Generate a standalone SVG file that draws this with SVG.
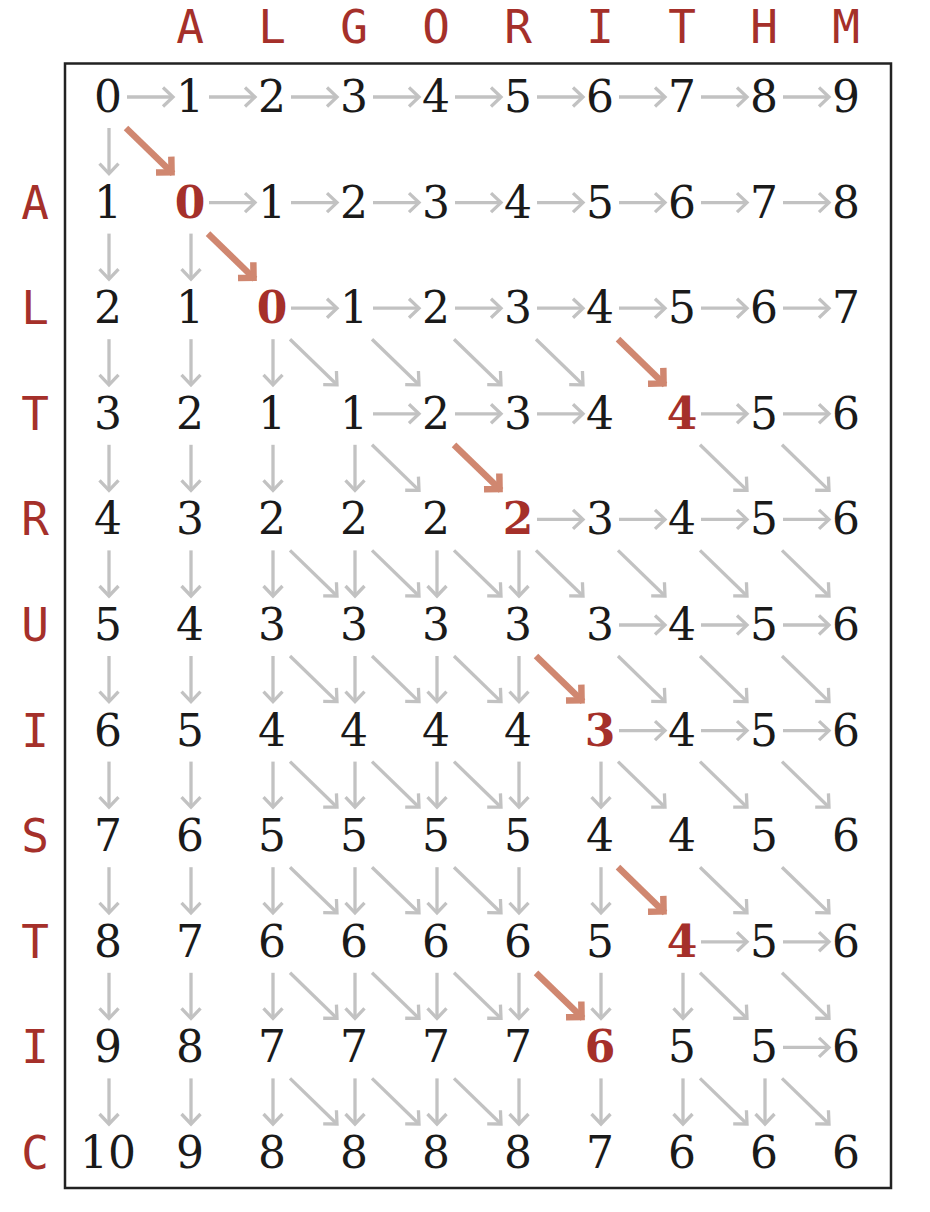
<svg xmlns="http://www.w3.org/2000/svg" width="930" height="1212" viewBox="0 0 930 1212">
<defs>
<style>
.d{font-family:"DejaVu Serif","Liberation Serif",serif;font-size:44px;fill:#1a1a1a;text-anchor:middle}
.dr{font-family:"DejaVu Serif","Liberation Serif",serif;font-size:44px;font-weight:bold;fill:#a5302a;text-anchor:middle}
.l{font-family:"DejaVu Sans Mono","Liberation Mono",monospace;font-size:46px;fill:#a5302a;text-anchor:middle}
.g{stroke:#c2c2c2;stroke-width:3.3;fill:none;marker-end:url(#ag)}
.r{stroke:#d08770;stroke-width:6.5;fill:none;marker-end:url(#ar)}
</style>
<marker id="ag" markerUnits="userSpaceOnUse" orient="auto" markerWidth="30" markerHeight="30" viewBox="-15 -15 30 30" refX="0" refY="0" overflow="visible"><path d="M-10,-9.5 L0,0 L-10,9.5" fill="none" stroke="#c2c2c2" stroke-width="3.3"/></marker>
<marker id="ar" markerUnits="userSpaceOnUse" orient="auto" markerWidth="40" markerHeight="40" viewBox="-20 -20 40 40" refX="0" refY="0" overflow="visible"><path d="M-13,-11 L-2,0 L-13,11" fill="none" stroke="#d08770" stroke-width="6.5"/></marker>
</defs>
<rect x="0" y="0" width="930" height="1212" fill="#fff"/>
<rect id="frame" x="65" y="63.5" width="826" height="1124.5" fill="none" stroke="#222" stroke-width="2.5"/>
<g id="col-labels">
<text class="l" x="190" y="43">A</text><text class="l" x="272" y="43">L</text><text class="l" x="354" y="43">G</text><text class="l" x="436" y="43">O</text><text class="l" x="518" y="43">R</text><text class="l" x="600" y="43">I</text><text class="l" x="682" y="43">T</text><text class="l" x="764" y="43">H</text><text class="l" x="846" y="43">M</text>
</g>
<g id="row-labels">
<text class="l" x="35" y="218.6">A</text><text class="l" x="35" y="324.2">L</text><text class="l" x="35" y="429.8">T</text><text class="l" x="35" y="535.4">R</text><text class="l" x="35" y="641">U</text><text class="l" x="35" y="746.6">I</text><text class="l" x="35" y="852.2">S</text><text class="l" x="35" y="957.8">T</text><text class="l" x="35" y="1063.4">I</text><text class="l" x="35" y="1169">C</text>
</g>
<g id="connectors">
<line class="g" x1="127" y1="97" x2="173" y2="97"/><line class="g" x1="209" y1="97" x2="255" y2="97"/><line class="g" x1="291" y1="97" x2="337" y2="97"/><line class="g" x1="373" y1="97" x2="419" y2="97"/><line class="g" x1="455" y1="97" x2="501" y2="97"/><line class="g" x1="537" y1="97" x2="583" y2="97"/><line class="g" x1="619" y1="97" x2="665" y2="97"/><line class="g" x1="701" y1="97" x2="747" y2="97"/><line class="g" x1="783" y1="97" x2="829" y2="97"/>
<line class="g" x1="209" y1="202.6" x2="255" y2="202.6"/><line class="g" x1="291" y1="202.6" x2="337" y2="202.6"/><line class="g" x1="373" y1="202.6" x2="419" y2="202.6"/><line class="g" x1="455" y1="202.6" x2="501" y2="202.6"/><line class="g" x1="537" y1="202.6" x2="583" y2="202.6"/><line class="g" x1="619" y1="202.6" x2="665" y2="202.6"/><line class="g" x1="701" y1="202.6" x2="747" y2="202.6"/><line class="g" x1="783" y1="202.6" x2="829" y2="202.6"/>
<line class="g" x1="291" y1="308.2" x2="337" y2="308.2"/><line class="g" x1="373" y1="308.2" x2="419" y2="308.2"/><line class="g" x1="455" y1="308.2" x2="501" y2="308.2"/><line class="g" x1="537" y1="308.2" x2="583" y2="308.2"/><line class="g" x1="619" y1="308.2" x2="665" y2="308.2"/><line class="g" x1="701" y1="308.2" x2="747" y2="308.2"/><line class="g" x1="783" y1="308.2" x2="829" y2="308.2"/>
<line class="g" x1="373" y1="413.8" x2="419" y2="413.8"/><line class="g" x1="455" y1="413.8" x2="501" y2="413.8"/><line class="g" x1="537" y1="413.8" x2="583" y2="413.8"/><line class="g" x1="701" y1="413.8" x2="747" y2="413.8"/><line class="g" x1="783" y1="413.8" x2="829" y2="413.8"/>
<line class="g" x1="537" y1="519.4" x2="583" y2="519.4"/><line class="g" x1="619" y1="519.4" x2="665" y2="519.4"/><line class="g" x1="701" y1="519.4" x2="747" y2="519.4"/><line class="g" x1="783" y1="519.4" x2="829" y2="519.4"/>
<line class="g" x1="619" y1="625" x2="665" y2="625"/><line class="g" x1="701" y1="625" x2="747" y2="625"/><line class="g" x1="783" y1="625" x2="829" y2="625"/>
<line class="g" x1="619" y1="730.6" x2="665" y2="730.6"/><line class="g" x1="701" y1="730.6" x2="747" y2="730.6"/><line class="g" x1="783" y1="730.6" x2="829" y2="730.6"/>
<line class="g" x1="701" y1="941.8" x2="747" y2="941.8"/><line class="g" x1="783" y1="941.8" x2="829" y2="941.8"/>
<line class="g" x1="783" y1="1047.4" x2="829" y2="1047.4"/>

<line class="g" x1="109" y1="128" x2="109" y2="173.6"/>
<line class="g" x1="109" y1="233.6" x2="109" y2="279.2"/><line class="g" x1="191" y1="233.6" x2="191" y2="279.2"/>
<line class="g" x1="109" y1="339.2" x2="109" y2="384.8"/><line class="g" x1="191" y1="339.2" x2="191" y2="384.8"/><line class="g" x1="273" y1="339.2" x2="273" y2="384.8"/>
<line class="g" x1="109" y1="444.8" x2="109" y2="490.4"/><line class="g" x1="191" y1="444.8" x2="191" y2="490.4"/><line class="g" x1="273" y1="444.8" x2="273" y2="490.4"/><line class="g" x1="355" y1="444.8" x2="355" y2="490.4"/>
<line class="g" x1="109" y1="550.4" x2="109" y2="596"/><line class="g" x1="191" y1="550.4" x2="191" y2="596"/><line class="g" x1="273" y1="550.4" x2="273" y2="596"/><line class="g" x1="355" y1="550.4" x2="355" y2="596"/><line class="g" x1="437" y1="550.4" x2="437" y2="596"/><line class="g" x1="519" y1="550.4" x2="519" y2="596"/>
<line class="g" x1="109" y1="656" x2="109" y2="701.6"/><line class="g" x1="191" y1="656" x2="191" y2="701.6"/><line class="g" x1="273" y1="656" x2="273" y2="701.6"/><line class="g" x1="355" y1="656" x2="355" y2="701.6"/><line class="g" x1="437" y1="656" x2="437" y2="701.6"/><line class="g" x1="519" y1="656" x2="519" y2="701.6"/>
<line class="g" x1="109" y1="761.6" x2="109" y2="807.2"/><line class="g" x1="191" y1="761.6" x2="191" y2="807.2"/><line class="g" x1="273" y1="761.6" x2="273" y2="807.2"/><line class="g" x1="355" y1="761.6" x2="355" y2="807.2"/><line class="g" x1="437" y1="761.6" x2="437" y2="807.2"/><line class="g" x1="519" y1="761.6" x2="519" y2="807.2"/><line class="g" x1="601" y1="761.6" x2="601" y2="807.2"/>
<line class="g" x1="109" y1="867.2" x2="109" y2="912.8"/><line class="g" x1="191" y1="867.2" x2="191" y2="912.8"/><line class="g" x1="273" y1="867.2" x2="273" y2="912.8"/><line class="g" x1="355" y1="867.2" x2="355" y2="912.8"/><line class="g" x1="437" y1="867.2" x2="437" y2="912.8"/><line class="g" x1="519" y1="867.2" x2="519" y2="912.8"/><line class="g" x1="601" y1="867.2" x2="601" y2="912.8"/>
<line class="g" x1="109" y1="972.8" x2="109" y2="1018.4"/><line class="g" x1="191" y1="972.8" x2="191" y2="1018.4"/><line class="g" x1="273" y1="972.8" x2="273" y2="1018.4"/><line class="g" x1="355" y1="972.8" x2="355" y2="1018.4"/><line class="g" x1="437" y1="972.8" x2="437" y2="1018.4"/><line class="g" x1="519" y1="972.8" x2="519" y2="1018.4"/><line class="g" x1="601" y1="972.8" x2="601" y2="1018.4"/><line class="g" x1="683" y1="972.8" x2="683" y2="1018.4"/>
<line class="g" x1="109" y1="1078.4" x2="109" y2="1124"/><line class="g" x1="191" y1="1078.4" x2="191" y2="1124"/><line class="g" x1="273" y1="1078.4" x2="273" y2="1124"/><line class="g" x1="355" y1="1078.4" x2="355" y2="1124"/><line class="g" x1="437" y1="1078.4" x2="437" y2="1124"/><line class="g" x1="519" y1="1078.4" x2="519" y2="1124"/><line class="g" x1="601" y1="1078.4" x2="601" y2="1124"/><line class="g" x1="683" y1="1078.4" x2="683" y2="1124"/><line class="g" x1="765" y1="1078.4" x2="765" y2="1124"/>

<line class="g" x1="290" y1="339.2" x2="337" y2="384.8"/><line class="g" x1="372" y1="339.2" x2="419" y2="384.8"/><line class="g" x1="454" y1="339.2" x2="501" y2="384.8"/><line class="g" x1="536" y1="339.2" x2="583" y2="384.8"/>
<line class="g" x1="372" y1="444.8" x2="419" y2="490.4"/><line class="g" x1="700" y1="444.8" x2="747" y2="490.4"/><line class="g" x1="782" y1="444.8" x2="829" y2="490.4"/>
<line class="g" x1="290" y1="550.4" x2="337" y2="596"/><line class="g" x1="372" y1="550.4" x2="419" y2="596"/><line class="g" x1="454" y1="550.4" x2="501" y2="596"/><line class="g" x1="536" y1="550.4" x2="583" y2="596"/><line class="g" x1="618" y1="550.4" x2="665" y2="596"/><line class="g" x1="700" y1="550.4" x2="747" y2="596"/><line class="g" x1="782" y1="550.4" x2="829" y2="596"/>
<line class="g" x1="290" y1="656" x2="337" y2="701.6"/><line class="g" x1="372" y1="656" x2="419" y2="701.6"/><line class="g" x1="454" y1="656" x2="501" y2="701.6"/><line class="g" x1="618" y1="656" x2="665" y2="701.6"/><line class="g" x1="700" y1="656" x2="747" y2="701.6"/><line class="g" x1="782" y1="656" x2="829" y2="701.6"/>
<line class="g" x1="290" y1="761.6" x2="337" y2="807.2"/><line class="g" x1="372" y1="761.6" x2="419" y2="807.2"/><line class="g" x1="454" y1="761.6" x2="501" y2="807.2"/><line class="g" x1="618" y1="761.6" x2="665" y2="807.2"/><line class="g" x1="700" y1="761.6" x2="747" y2="807.2"/><line class="g" x1="782" y1="761.6" x2="829" y2="807.2"/>
<line class="g" x1="290" y1="867.2" x2="337" y2="912.8"/><line class="g" x1="372" y1="867.2" x2="419" y2="912.8"/><line class="g" x1="454" y1="867.2" x2="501" y2="912.8"/><line class="g" x1="700" y1="867.2" x2="747" y2="912.8"/><line class="g" x1="782" y1="867.2" x2="829" y2="912.8"/>
<line class="g" x1="290" y1="972.8" x2="337" y2="1018.4"/><line class="g" x1="372" y1="972.8" x2="419" y2="1018.4"/><line class="g" x1="454" y1="972.8" x2="501" y2="1018.4"/><line class="g" x1="700" y1="972.8" x2="747" y2="1018.4"/><line class="g" x1="782" y1="972.8" x2="829" y2="1018.4"/>
<line class="g" x1="290" y1="1078.4" x2="337" y2="1124"/><line class="g" x1="372" y1="1078.4" x2="419" y2="1124"/><line class="g" x1="454" y1="1078.4" x2="501" y2="1124"/><line class="g" x1="700" y1="1078.4" x2="747" y2="1124"/><line class="g" x1="782" y1="1078.4" x2="829" y2="1124"/>

<line class="r" x1="126" y1="128" x2="173" y2="173.6"/>
<line class="r" x1="208" y1="233.6" x2="255" y2="279.2"/>
<line class="r" x1="618" y1="339.2" x2="665" y2="384.8"/>
<line class="r" x1="454" y1="444.8" x2="501" y2="490.4"/>
<line class="r" x1="536" y1="656" x2="583" y2="701.6"/>
<line class="r" x1="618" y1="867.2" x2="665" y2="912.8"/>
<line class="r" x1="536" y1="972.8" x2="583" y2="1018.4"/>
</g>
<g id="cells">
<g id="n-0-0"><text class="d" x="108" y="112">0</text></g><g id="n-0-1"><text class="d" x="190" y="112">1</text></g><g id="n-0-2"><text class="d" x="272" y="112">2</text></g><g id="n-0-3"><text class="d" x="354" y="112">3</text></g><g id="n-0-4"><text class="d" x="436" y="112">4</text></g><g id="n-0-5"><text class="d" x="518" y="112">5</text></g><g id="n-0-6"><text class="d" x="600" y="112">6</text></g><g id="n-0-7"><text class="d" x="682" y="112">7</text></g><g id="n-0-8"><text class="d" x="764" y="112">8</text></g><g id="n-0-9"><text class="d" x="846" y="112">9</text></g>
<g id="n-1-0"><text class="d" x="108" y="217.6">1</text></g><g id="n-1-1"><text class="dr" x="190" y="217.6">0</text></g><g id="n-1-2"><text class="d" x="272" y="217.6">1</text></g><g id="n-1-3"><text class="d" x="354" y="217.6">2</text></g><g id="n-1-4"><text class="d" x="436" y="217.6">3</text></g><g id="n-1-5"><text class="d" x="518" y="217.6">4</text></g><g id="n-1-6"><text class="d" x="600" y="217.6">5</text></g><g id="n-1-7"><text class="d" x="682" y="217.6">6</text></g><g id="n-1-8"><text class="d" x="764" y="217.6">7</text></g><g id="n-1-9"><text class="d" x="846" y="217.6">8</text></g>
<g id="n-2-0"><text class="d" x="108" y="323.2">2</text></g><g id="n-2-1"><text class="d" x="190" y="323.2">1</text></g><g id="n-2-2"><text class="dr" x="272" y="323.2">0</text></g><g id="n-2-3"><text class="d" x="354" y="323.2">1</text></g><g id="n-2-4"><text class="d" x="436" y="323.2">2</text></g><g id="n-2-5"><text class="d" x="518" y="323.2">3</text></g><g id="n-2-6"><text class="d" x="600" y="323.2">4</text></g><g id="n-2-7"><text class="d" x="682" y="323.2">5</text></g><g id="n-2-8"><text class="d" x="764" y="323.2">6</text></g><g id="n-2-9"><text class="d" x="846" y="323.2">7</text></g>
<g id="n-3-0"><text class="d" x="108" y="428.8">3</text></g><g id="n-3-1"><text class="d" x="190" y="428.8">2</text></g><g id="n-3-2"><text class="d" x="272" y="428.8">1</text></g><g id="n-3-3"><text class="d" x="354" y="428.8">1</text></g><g id="n-3-4"><text class="d" x="436" y="428.8">2</text></g><g id="n-3-5"><text class="d" x="518" y="428.8">3</text></g><g id="n-3-6"><text class="d" x="600" y="428.8">4</text></g><g id="n-3-7"><text class="dr" x="682" y="428.8">4</text></g><g id="n-3-8"><text class="d" x="764" y="428.8">5</text></g><g id="n-3-9"><text class="d" x="846" y="428.8">6</text></g>
<g id="n-4-0"><text class="d" x="108" y="534.4">4</text></g><g id="n-4-1"><text class="d" x="190" y="534.4">3</text></g><g id="n-4-2"><text class="d" x="272" y="534.4">2</text></g><g id="n-4-3"><text class="d" x="354" y="534.4">2</text></g><g id="n-4-4"><text class="d" x="436" y="534.4">2</text></g><g id="n-4-5"><text class="dr" x="518" y="534.4">2</text></g><g id="n-4-6"><text class="d" x="600" y="534.4">3</text></g><g id="n-4-7"><text class="d" x="682" y="534.4">4</text></g><g id="n-4-8"><text class="d" x="764" y="534.4">5</text></g><g id="n-4-9"><text class="d" x="846" y="534.4">6</text></g>
<g id="n-5-0"><text class="d" x="108" y="640">5</text></g><g id="n-5-1"><text class="d" x="190" y="640">4</text></g><g id="n-5-2"><text class="d" x="272" y="640">3</text></g><g id="n-5-3"><text class="d" x="354" y="640">3</text></g><g id="n-5-4"><text class="d" x="436" y="640">3</text></g><g id="n-5-5"><text class="d" x="518" y="640">3</text></g><g id="n-5-6"><text class="d" x="600" y="640">3</text></g><g id="n-5-7"><text class="d" x="682" y="640">4</text></g><g id="n-5-8"><text class="d" x="764" y="640">5</text></g><g id="n-5-9"><text class="d" x="846" y="640">6</text></g>
<g id="n-6-0"><text class="d" x="108" y="745.6">6</text></g><g id="n-6-1"><text class="d" x="190" y="745.6">5</text></g><g id="n-6-2"><text class="d" x="272" y="745.6">4</text></g><g id="n-6-3"><text class="d" x="354" y="745.6">4</text></g><g id="n-6-4"><text class="d" x="436" y="745.6">4</text></g><g id="n-6-5"><text class="d" x="518" y="745.6">4</text></g><g id="n-6-6"><text class="dr" x="600" y="745.6">3</text></g><g id="n-6-7"><text class="d" x="682" y="745.6">4</text></g><g id="n-6-8"><text class="d" x="764" y="745.6">5</text></g><g id="n-6-9"><text class="d" x="846" y="745.6">6</text></g>
<g id="n-7-0"><text class="d" x="108" y="851.2">7</text></g><g id="n-7-1"><text class="d" x="190" y="851.2">6</text></g><g id="n-7-2"><text class="d" x="272" y="851.2">5</text></g><g id="n-7-3"><text class="d" x="354" y="851.2">5</text></g><g id="n-7-4"><text class="d" x="436" y="851.2">5</text></g><g id="n-7-5"><text class="d" x="518" y="851.2">5</text></g><g id="n-7-6"><text class="d" x="600" y="851.2">4</text></g><g id="n-7-7"><text class="d" x="682" y="851.2">4</text></g><g id="n-7-8"><text class="d" x="764" y="851.2">5</text></g><g id="n-7-9"><text class="d" x="846" y="851.2">6</text></g>
<g id="n-8-0"><text class="d" x="108" y="956.8">8</text></g><g id="n-8-1"><text class="d" x="190" y="956.8">7</text></g><g id="n-8-2"><text class="d" x="272" y="956.8">6</text></g><g id="n-8-3"><text class="d" x="354" y="956.8">6</text></g><g id="n-8-4"><text class="d" x="436" y="956.8">6</text></g><g id="n-8-5"><text class="d" x="518" y="956.8">6</text></g><g id="n-8-6"><text class="d" x="600" y="956.8">5</text></g><g id="n-8-7"><text class="dr" x="682" y="956.8">4</text></g><g id="n-8-8"><text class="d" x="764" y="956.8">5</text></g><g id="n-8-9"><text class="d" x="846" y="956.8">6</text></g>
<g id="n-9-0"><text class="d" x="108" y="1062.4">9</text></g><g id="n-9-1"><text class="d" x="190" y="1062.4">8</text></g><g id="n-9-2"><text class="d" x="272" y="1062.4">7</text></g><g id="n-9-3"><text class="d" x="354" y="1062.4">7</text></g><g id="n-9-4"><text class="d" x="436" y="1062.4">7</text></g><g id="n-9-5"><text class="d" x="518" y="1062.4">7</text></g><g id="n-9-6"><text class="dr" x="600" y="1062.4">6</text></g><g id="n-9-7"><text class="d" x="682" y="1062.4">5</text></g><g id="n-9-8"><text class="d" x="764" y="1062.4">5</text></g><g id="n-9-9"><text class="d" x="846" y="1062.4">6</text></g>
<g id="n-10-0"><text class="d" x="108" y="1168">10</text></g><g id="n-10-1"><text class="d" x="190" y="1168">9</text></g><g id="n-10-2"><text class="d" x="272" y="1168">8</text></g><g id="n-10-3"><text class="d" x="354" y="1168">8</text></g><g id="n-10-4"><text class="d" x="436" y="1168">8</text></g><g id="n-10-5"><text class="d" x="518" y="1168">8</text></g><g id="n-10-6"><text class="d" x="600" y="1168">7</text></g><g id="n-10-7"><text class="d" x="682" y="1168">6</text></g><g id="n-10-8"><text class="d" x="764" y="1168">6</text></g><g id="n-10-9"><text class="d" x="846" y="1168">6</text></g>
</g>
</svg>
